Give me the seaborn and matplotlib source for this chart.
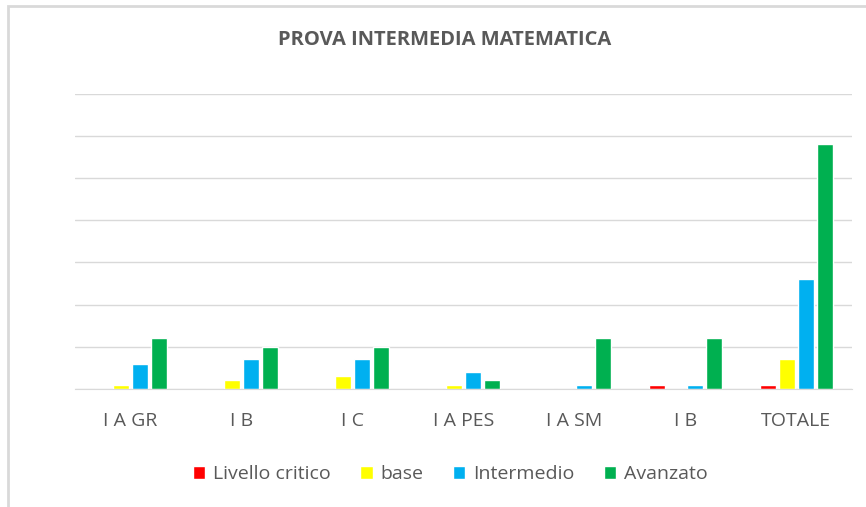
import seaborn as sns
import matplotlib.pyplot as plt
import pandas as pd

classi = ['I A GR', 'I B', 'I C', 'I A PES', 'I A SM', 'I B', 'TOTALE']
livelli = ['Livello critico', 'base', 'Intermedio', 'Avanzato']
critico = [0, 0, 0, 0, 0, 1, 1]
base = [1, 2, 3, 1, 0, 0, 7]
intermedio = [6, 7, 7, 4, 1, 1, 26]
avanzato = [12, 10, 10, 2, 12, 12, 58]
colori = ['#ff0000', '#ffff00', '#00b0f0', '#00b050']

rows = []
for serie, valori in zip(livelli, [critico, base, intermedio, avanzato]):
    for i, v in enumerate(valori):
        rows.append({'pos': i, 'livello': serie, 'valore': v})
df = pd.DataFrame(rows)

sns.set_style('white')
plt.rcParams['font.family'] = ['Open Sans', 'DejaVu Sans']

fig = plt.figure(figsize=(8.66, 5.07), dpi=100)
ax = fig.add_axes([0.0866, 0.233, 0.897, 0.582])
sns.barplot(data=df, x='pos', y='valore', hue='livello', hue_order=livelli,
            palette=colori, width=0.68, gap=0.15, saturation=1, ax=ax)

ax.set_ylim(0, 70)
ax.set_yticks(range(0, 71, 10))
ax.set_yticklabels([])
ax.tick_params(axis='y', length=0)
ax.yaxis.grid(True, color='#d9d9d9', linewidth=1)
ax.set_axisbelow(True)
for s in ['left', 'right', 'top']:
    ax.spines[s].set_visible(False)
ax.spines['bottom'].set_color('#d9d9d9')
ax.set_xticks(range(len(classi)))
ax.set_xticklabels(classi, fontsize=14, color='#595959')
ax.tick_params(axis='x', length=0, pad=17)
ax.set_xlabel('')
ax.set_ylabel('')

fig.text(0.513, 0.921, 'PROVA INTERMEDIA MATEMATICA', ha='center', va='center',
         fontsize=14.5, fontweight='bold', color='#595959')

sns.move_legend(ax, 'upper center', bbox_to_anchor=(0.483, -0.2), ncol=4,
                frameon=False, title=None, fontsize=14, handlelength=0.65,
                handleheight=0.65, handletextpad=0.4, columnspacing=1.5,
                labelcolor='#595959')

fig.patches.append(plt.Rectangle((0.009, -0.01), 1.0, 0.998, transform=fig.transFigure,
                                 fill=False, edgecolor='#d9d9d9', linewidth=2))
fig.savefig('out.png', dpi=100)
